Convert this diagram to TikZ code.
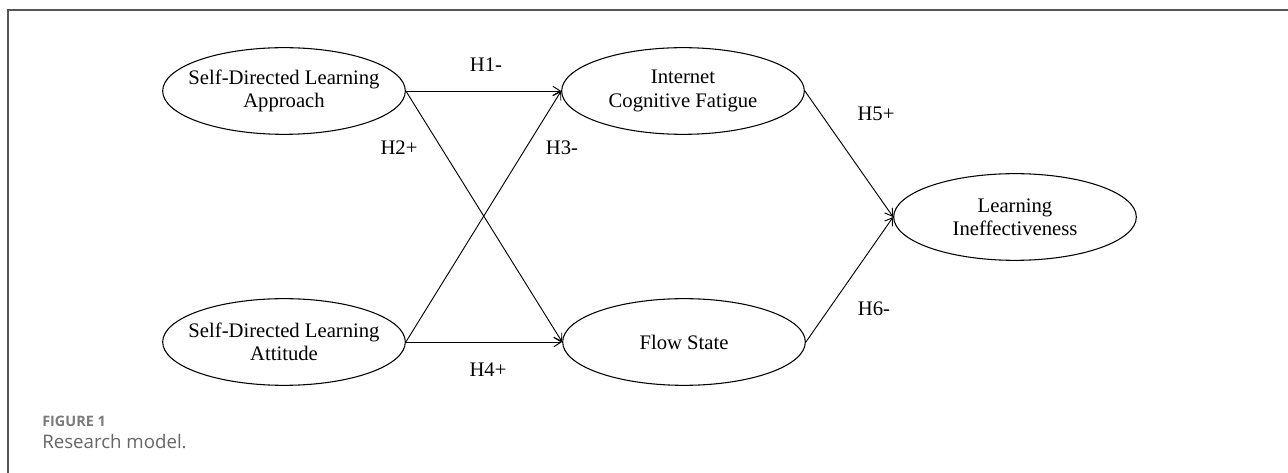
\documentclass[tikz,border=0pt]{standalone}
\usepackage{fontspec}
\setmainfont{Liberation Serif}
\newfontfamily\captionfont{Open Sans}
\usepackage{xcolor}
\definecolor{framegray}{HTML}{555555}
\definecolor{captiongray}{HTML}{7A7A7A}
\definecolor{captiontext}{HTML}{666666}
\usetikzlibrary{shapes.geometric,arrows.meta}
\tikzset{
  % --- CONSTRUCTS ---
  construct/.style={
    ellipse,
    draw=black,
    line width=0.8pt,
    minimum width=182pt,
    minimum height=65pt,
    inner xsep=-10pt,
    inner ysep=0pt,
    align=center,
    font=\fontsize{15.5}{17.5}\selectfont
  },
  % --- PATHS ---
  hypo/.style={
    draw=black,
    line width=0.7pt,
    -{Straight Barb[length=5.5pt,width=7pt]}
  },
  hypo-label/.style={
    font=\fontsize{15.5}{17.5}\selectfont,
    inner sep=0pt
  },
  % --- FRAME AND CAPTION ---
  frame-line/.style={
    draw=framegray,
    line width=1.3pt
  },
  figure-tag/.style={
    font=\captionfont\bfseries\fontsize{10.8}{13}\selectfont,
    text=captiongray,
    anchor=base west,
    inner sep=0pt
  },
  figure-title/.style={
    font=\captionfont\fontsize{14}{16}\selectfont,
    text=captiontext,
    anchor=base west,
    inner sep=0pt
  },
}

\begin{document}
\begin{tikzpicture}[x=0.75pt, y=-0.75pt]
  \useasboundingbox (0,0) rectangle (1288,473);
  % --- frame
  \draw[frame-line] (1288,10) -- (8,10) -- (8,473);
  % --- constructs
  \node[construct] (approach)   at (284, 91)  {Self-Directed Learning\\Approach};
  \node[construct] (attitude)   at (284, 342) {Self-Directed Learning\\Attitude};
  \node[construct] (fatigue)    at (683, 91)  {Internet\\Cognitive Fatigue};
  \node[construct] (flow)       at (684, 342) {Flow State};
  \node[construct] (ineffect)   at (1015, 217) {Learning\\Ineffectiveness};
  % --- hypotheses
  \draw[hypo] (approach.east) -- (fatigue.west);
  \draw[hypo] (approach.east) -- (flow.west);
  \draw[hypo] (attitude.east) -- (fatigue.west);
  \draw[hypo] (attitude.east) -- (flow.west);
  \draw[hypo] (fatigue.east)  -- (ineffect.west);
  \draw[hypo] (flow.east)     -- (ineffect.west);
  % --- hypothesis labels
  \node[hypo-label] (h1) at (486, 65)  {H1-};
  \node[hypo-label] (h2) at (399, 148) {H2+};
  \node[hypo-label] (h3) at (562, 148) {H3-};
  \node[hypo-label] (h4) at (488, 370) {H4+};
  \node[hypo-label] (h5) at (876, 114) {H5+};
  \node[hypo-label] (h6) at (874, 309) {H6-};
  % --- caption
  \node[figure-tag]   (tag)   at (42, 427) {FIGURE 1};
  \node[figure-title] (title) at (42, 449) {Research model.};
\end{tikzpicture}
\end{document}
